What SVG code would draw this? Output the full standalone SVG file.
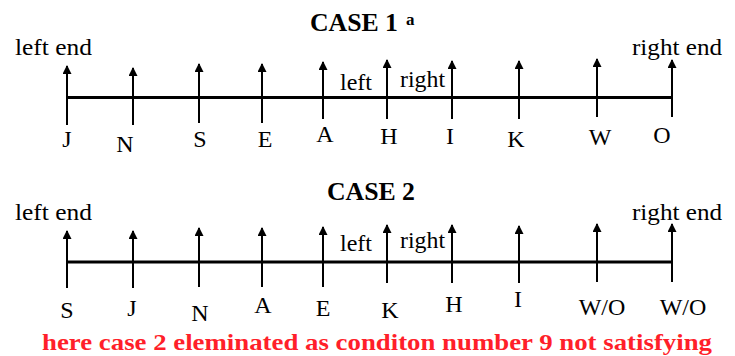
<svg xmlns="http://www.w3.org/2000/svg" width="735" height="356" viewBox="0 0 735 356">
<style>
text{font-family:"Liberation Serif","Times New Roman",serif;fill:#000}
.lbl{font-size:24px;text-anchor:middle}
.end{font-size:24px}
.mid{font-size:24px}
.title{font-size:26px;font-weight:bold}
.sup{font-size:17px;font-weight:bold}
.note{font-size:24px;font-weight:bold;fill:#ff1f2a}
.axis{stroke:#000;stroke-width:3}
.tick{stroke:#000;stroke-width:2;marker-end:url(#ah)}
</style>
<defs>
<marker id="ah" viewBox="0 0 10 10" refX="9" refY="5" markerWidth="12" markerHeight="9" markerUnits="userSpaceOnUse" orient="auto">
<path d="M0,0 L10,5 L0,10 z" fill="#000"/>
</marker>
</defs>
<rect width="735" height="356" fill="#fff"/>

<g id="case1">
<text class="title" x="310" y="31" textLength="88" lengthAdjust="spacingAndGlyphs">CASE 1</text>
<text class="sup" x="406" y="25">a</text>
<text class="end" x="15" y="55" textLength="77" lengthAdjust="spacingAndGlyphs">left end</text>
<text class="end" x="632" y="55" textLength="90" lengthAdjust="spacingAndGlyphs">right end</text>
<text class="mid" x="340" y="90" textLength="32" lengthAdjust="spacingAndGlyphs">left</text>
<text class="mid" x="400" y="87" textLength="45" lengthAdjust="spacingAndGlyphs">right</text>
<g id="c1-connectors">
<line class="axis" x1="67" y1="97.5" x2="672" y2="97.5"/>
<line class="tick" x1="67" y1="125" x2="67" y2="66"/>
<line class="tick" x1="133" y1="125" x2="133" y2="68"/>
<line class="tick" x1="199" y1="123" x2="199" y2="64"/>
<line class="tick" x1="262" y1="123" x2="262" y2="64"/>
<line class="tick" x1="323" y1="119" x2="323" y2="62"/>
<line class="tick" x1="387" y1="119" x2="387" y2="60"/>
<line class="tick" x1="452" y1="119" x2="452" y2="61"/>
<line class="tick" x1="519" y1="119" x2="519" y2="61"/>
<line class="tick" x1="597" y1="117" x2="597" y2="59"/>
<line class="tick" x1="672" y1="117" x2="672" y2="60"/>
</g>
<g id="c1-J"><text class="lbl" x="67" y="147">J</text></g>
<g id="c1-N"><text class="lbl" x="125" y="152">N</text></g>
<g id="c1-S"><text class="lbl" x="200" y="147">S</text></g>
<g id="c1-E"><text class="lbl" x="265" y="147">E</text></g>
<g id="c1-A"><text class="lbl" x="325" y="142">A</text></g>
<g id="c1-H"><text class="lbl" x="389" y="144">H</text></g>
<g id="c1-I"><text class="lbl" x="450" y="144">I</text></g>
<g id="c1-K"><text class="lbl" x="516" y="147">K</text></g>
<g id="c1-W"><text class="lbl" x="600" y="145">W</text></g>
<g id="c1-O"><text class="lbl" x="662" y="143">O</text></g>
</g>

<g id="case2">
<text class="title" x="327" y="200" textLength="88" lengthAdjust="spacingAndGlyphs">CASE 2</text>
<text class="end" x="15" y="220" textLength="77" lengthAdjust="spacingAndGlyphs">left end</text>
<text class="end" x="632" y="220" textLength="90" lengthAdjust="spacingAndGlyphs">right end</text>
<text class="mid" x="340" y="251" textLength="32" lengthAdjust="spacingAndGlyphs">left</text>
<text class="mid" x="400" y="248" textLength="45" lengthAdjust="spacingAndGlyphs">right</text>
<g id="c2-connectors">
<line class="axis" x1="67" y1="262" x2="672" y2="262"/>
<line class="tick" x1="67" y1="288" x2="67" y2="231"/>
<line class="tick" x1="133" y1="288" x2="133" y2="231"/>
<line class="tick" x1="199" y1="287" x2="199" y2="228"/>
<line class="tick" x1="262" y1="287" x2="262" y2="228"/>
<line class="tick" x1="323" y1="287" x2="323" y2="227"/>
<line class="tick" x1="387" y1="283" x2="387" y2="225"/>
<line class="tick" x1="452" y1="283" x2="452" y2="225"/>
<line class="tick" x1="519" y1="283" x2="519" y2="226"/>
<line class="tick" x1="597" y1="282" x2="597" y2="224"/>
<line class="tick" x1="672" y1="282" x2="672" y2="224"/>
</g>
<g id="c2-S"><text class="lbl" x="67" y="318">S</text></g>
<g id="c2-J"><text class="lbl" x="132" y="316">J</text></g>
<g id="c2-N"><text class="lbl" x="200" y="321">N</text></g>
<g id="c2-A"><text class="lbl" x="263" y="313">A</text></g>
<g id="c2-E"><text class="lbl" x="323" y="316">E</text></g>
<g id="c2-K"><text class="lbl" x="390" y="318">K</text></g>
<g id="c2-H"><text class="lbl" x="454" y="312">H</text></g>
<g id="c2-I"><text class="lbl" x="518" y="307">I</text></g>
<g id="c2-WO1"><text class="lbl" x="602" y="315">W/O</text></g>
<g id="c2-WO2"><text class="lbl" x="683" y="315">W/O</text></g>
</g>

<text class="note" x="42" y="350" textLength="670" lengthAdjust="spacingAndGlyphs">here case 2 eleminated as conditon number 9 not satisfying</text>
</svg>
